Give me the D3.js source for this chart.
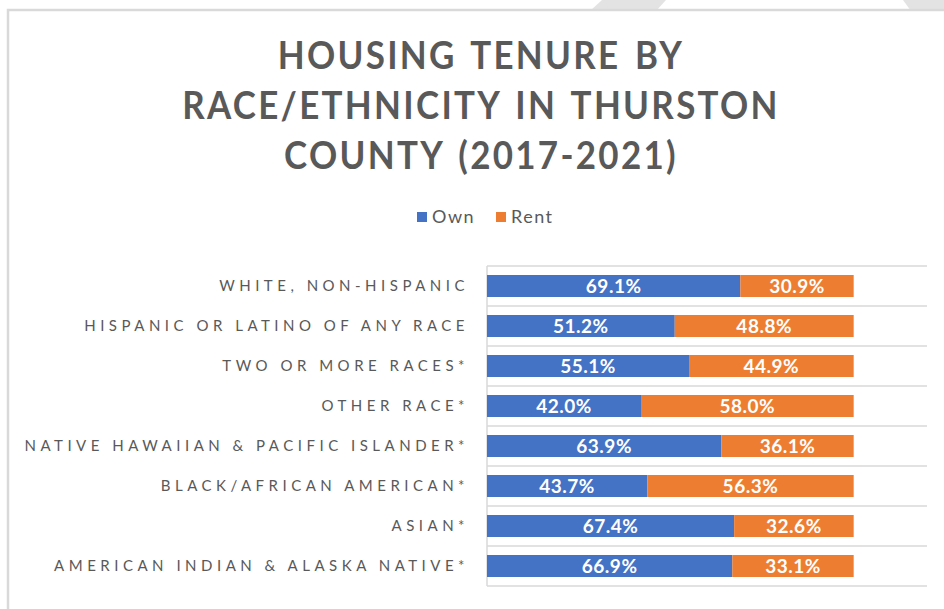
<!DOCTYPE html>
<html lang="en">
<head>
  <meta charset="UTF-8">
  <title>Housing tenure by race/ethnicity</title>
  <style>
    body{ margin: 0; background: #fff; }
    .grid{ stroke: #d9d9d9; stroke-width: 1.5px; }
    .title{ fill: #595959; font-family: Lato, sans-serif; font-weight: 700; font-size: 38px; letter-spacing: 2.5px; word-spacing: 4px; }
    .cat{ fill: #595959; font-family: Lato, sans-serif; font-size: 15px; letter-spacing: 4.5px; }
    .lbl{ fill: #fff; font-family: Lato, sans-serif; font-weight: 700; font-size: 19px; letter-spacing: 0.5px; }
    .legend{ fill: #595959; font-family: Lato, sans-serif; font-size: 18px; letter-spacing: 1.5px; }
  </style>
</head>
<body>
  <script src="https://cdn.jsdelivr.net/npm/d3@7"></script>
  <script>
    const width = 944, height = 609;
    const categories = [
      'WHITE, NON-HISPANIC',
      'HISPANIC OR LATINO OF ANY RACE',
      'TWO OR MORE RACES*',
      'OTHER RACE*',
      'NATIVE HAWAIIAN & PACIFIC ISLANDER*',
      'BLACK/AFRICAN AMERICAN*',
      'ASIAN*',
      'AMERICAN INDIAN & ALASKA NATIVE*'
    ];
    const own = [69.1, 51.2, 55.1, 42.0, 63.9, 43.7, 67.4, 66.9];
    const rent = [30.9, 48.8, 44.9, 58.0, 36.1, 56.3, 32.6, 33.1];
    const seriesNames = ['Own', 'Rent'];
    const colors = ['#4472c4', '#ed7d31'];
    const titleLines = ['HOUSING TENURE BY', 'RACE/ETHNICITY IN THURSTON', 'COUNTY (2017-2021)'];

    const svg = d3.select('body').append('svg')
      .attr('width', width).attr('height', height);

    // bits of the slide showing above the chart frame
    svg.append('path').attr('d', 'M602,0 L666,0 L656,11 L590,11 Z').attr('fill', '#e3e3e3');
    svg.append('path').attr('d', 'M903,0 L944,0 L944,11 L911,11 Z').attr('fill', '#e3e3e3');

    // chart frame
    svg.append('path').attr('d', 'M8,609 L8,10 L944,10')
      .attr('fill', 'none').attr('stroke', '#d9d9d9').attr('stroke-width', 2.5);

    const x = d3.scaleLinear().domain([0, 120]).range([487, 927]);
    const y = d3.scaleBand().domain(categories).range([266, 586])
      .paddingInner(0.45).paddingOuter(0.225);

    // title, squeezed a little to look like the narrower original face
    svg.append('text').attr('class', 'title').attr('text-anchor', 'middle')
      .attr('transform', 'translate(481,0) scale(0.92,1)')
      .selectAll('tspan').data(titleLines).enter().append('tspan')
      .attr('x', 0).attr('y', (d, i) => 69 + i * 50)
      .text(d => d);

    // legend
    const leg = svg.append('g').selectAll('g').data(seriesNames).enter().append('g')
      .attr('transform', (d, i) => `translate(${417 + i * 79},212)`);
    leg.append('rect').attr('width', 10).attr('height', 10).attr('fill', (d, i) => colors[i]);
    leg.append('text').attr('class', 'legend').attr('x', 15).attr('y', 11).text(d => d);

    // gridlines between categories
    const step = y.step();
    svg.append('g').selectAll('line').data(d3.range(categories.length + 1)).enter().append('line')
      .attr('class', 'grid')
      .attr('x1', x(0)).attr('x2', x(120))
      .attr('y1', d => 266 + d * step).attr('y2', d => 266 + d * step);
    svg.append('line').attr('class', 'grid')
      .attr('x1', x(0)).attr('x2', x(0)).attr('y1', 266).attr('y2', 586);

    // stacked bars
    const rows = categories.map((c, i) => ({cat: c, own: own[i], rent: rent[i]}));
    const stack = d3.stack().keys(['own', 'rent'])(rows);
    const g = svg.append('g').selectAll('g').data(stack).enter().append('g')
      .attr('fill', (d, i) => colors[i]);
    g.selectAll('rect').data(d => d).enter().append('rect')
      .attr('x', d => x(d[0]))
      .attr('y', d => y(d.data.cat))
      .attr('width', d => x(d[1]) - x(d[0]))
      .attr('height', y.bandwidth());
    g.selectAll('text').data((d, i) => d.map(v => ({v, key: stack[i].key}))).enter().append('text')
      .attr('class', 'lbl').attr('text-anchor', 'middle')
      .attr('x', d => (x(d.v[0]) + x(d.v[1])) / 2)
      .attr('y', d => y(d.v.data.cat) + y.bandwidth() / 2 + 7)
      .text(d => d.v.data[d.key].toFixed(1) + '%');

    // category labels
    svg.append('g').selectAll('text').data(categories).enter().append('text')
      .attr('class', 'cat').attr('text-anchor', 'end')
      .attr('x', 469).attr('y', d => y(d) + y.bandwidth() / 2 + 5)
      .text(d => d);
  </script>
</body>
</html>
